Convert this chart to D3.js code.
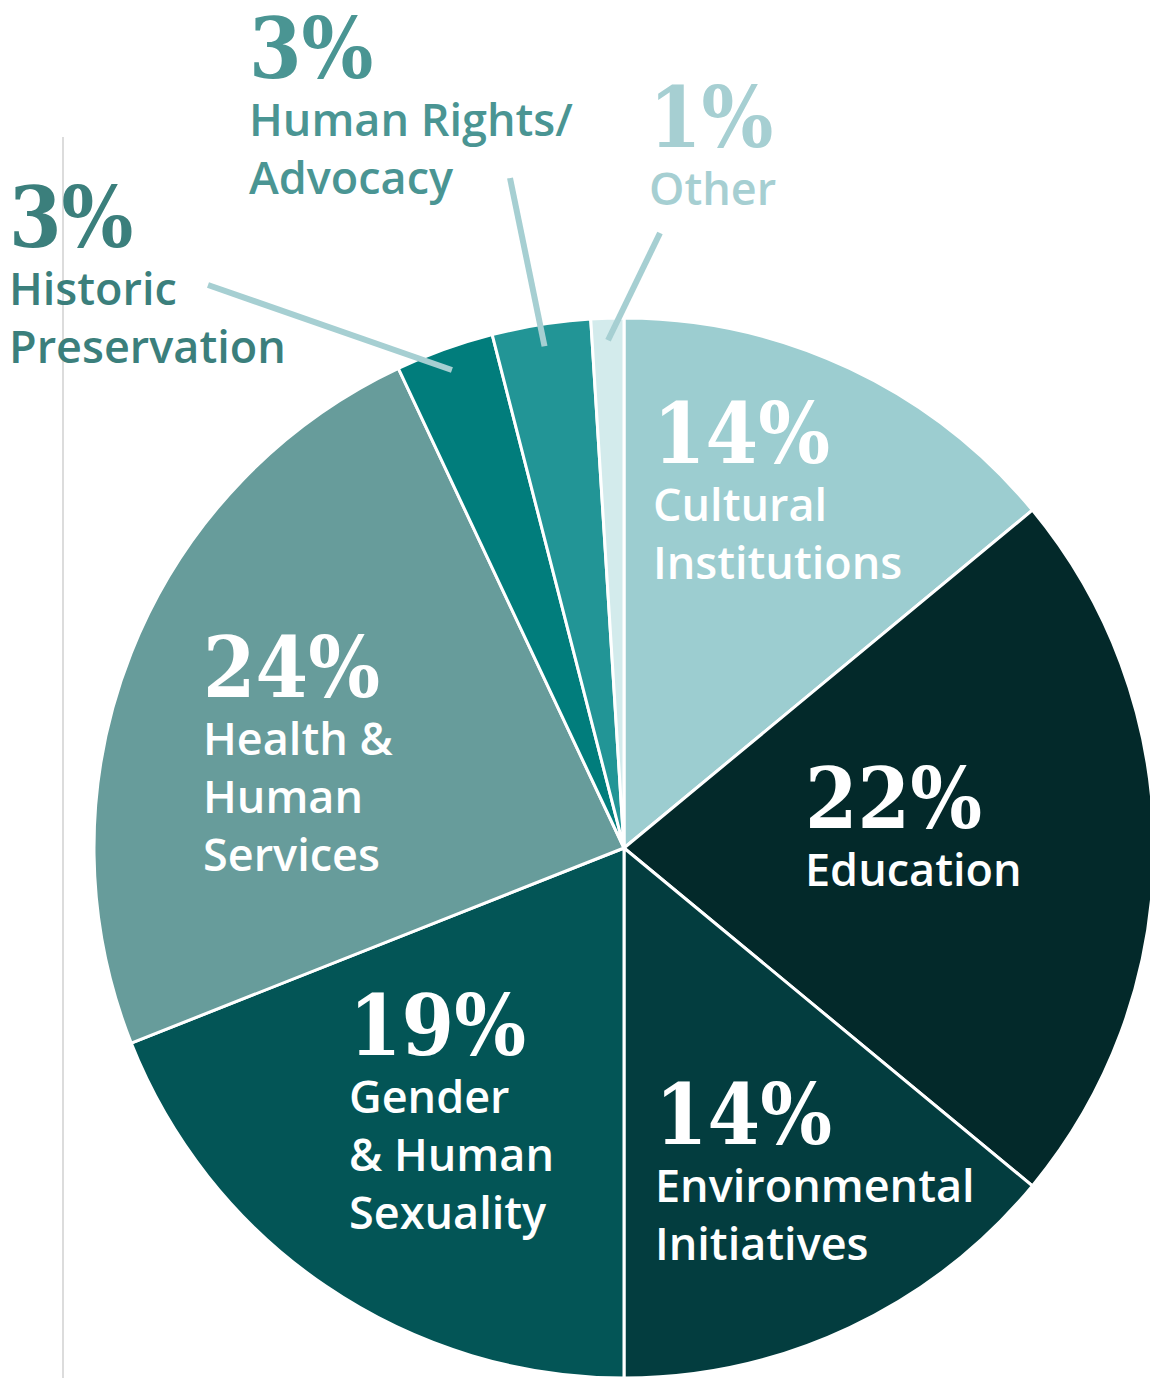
<!DOCTYPE html>
<html lang="en">
<head>
    <meta charset="UTF-8">
    <title>Giving by Category</title>
    <style>
        body {
            margin: 0;
            background: #fff;
        }
        .pct {
            font-family: 'DejaVu Serif Condensed', 'DejaVu Serif', serif;
            font-weight: bold;
            font-size: 84px;
        }
        .lbl {
            font-family: 'Open Sans', 'Noto Sans', sans-serif;
            font-weight: 600;
            font-size: 45px;
            font-variant-ligatures: none;
        }
    </style>
</head>
<body>
    <div id="chart"></div>
    <script src="https://d3js.org/d3.v7.min.js"></script>
    <script>
        const width = 1150;
        const height = 1378;

        // data
        const categories = ["Cultural Institutions", "Education", "Environmental Initiatives",
            "Gender & Human Sexuality", "Health & Human Services", "Historic Preservation",
            "Human Rights/ Advocacy", "Other"];
        const shares = [14, 22, 14, 19, 24, 3, 3, 1];
        const sliceColors = ["#9ccdd0", "#03292a", "#033d3f", "#035556", "#679c9b", "#017d7c", "#229596", "#d3ebec"];

        // label layout: text lines, position of the percent baseline, colour, optional leader start
        const labelLayout = [
            { lines: ["Cultural", "Institutions"], x: 653, y: 463, color: "#fff" },
            { lines: ["Education"], x: 805, y: 828, color: "#fff" },
            { lines: ["Environmental", "Initiatives"], x: 655, y: 1144, color: "#fff" },
            { lines: ["Gender", "& Human", "Sexuality"], x: 349, y: 1055, color: "#fff" },
            { lines: ["Health &", "Human", "Services"], x: 203, y: 697, color: "#fff" },
            { lines: ["Historic", "Preservation"], x: 9, y: 247, color: "#3b7f7c", leader: [208, 285] },
            { lines: ["Human Rights/", "Advocacy"], x: 249, y: 78, color: "#4a9593", leader: [510, 178] },
            { lines: ["Other"], x: 649, y: 147, color: "#a6cfd2", leader: [660, 233] }
        ];

        const cx = 624, cy = 848, radius = 530;

        const svg = d3.select("#chart")
            .append("svg")
            .attr("width", width)
            .attr("height", height);

        // thin grey rule on the left
        svg.append("line")
            .attr("x1", 63).attr("x2", 63)
            .attr("y1", 137).attr("y2", height)
            .attr("stroke", "#dcdcdc")
            .attr("stroke-width", 2);

        const pie = d3.pie().sort(null).value(d => d);
        const arcs = pie(shares);

        const arc = d3.arc().innerRadius(0).outerRadius(radius);

        const g = svg.append("g")
            .attr("transform", `translate(${cx},${cy})`);

        g.selectAll("path")
            .data(arcs)
            .enter().append("path")
            .attr("d", arc)
            .attr("fill", (d, i) => sliceColors[i])
            .attr("stroke", "#fff")
            .attr("stroke-width", 3)
            .attr("stroke-linejoin", "round");

        // leader lines for the small slices
        const pointAt = (a, r) => [cx + r * Math.sin(a), cy - r * Math.cos(a)];
        arcs.forEach((d, i) => {
            const lay = labelLayout[i];
            if (!lay.leader) return;
            const mid = (d.startAngle + d.endAngle) / 2;
            const end = pointAt(mid, radius - 22);
            svg.append("line")
                .attr("x1", lay.leader[0]).attr("y1", lay.leader[1])
                .attr("x2", end[0]).attr("y2", end[1])
                .attr("stroke", "#a6cfd2")
                .attr("stroke-width", 6);
        });

        // labels
        const labels = svg.append("g");
        arcs.forEach((d, i) => {
            const lay = labelLayout[i];
            const t = labels.append("g").attr("fill", lay.color);
            t.append("text")
                .attr("class", "pct")
                .attr("x", lay.x)
                .attr("y", lay.y)
                .text(shares[i] + "%");
            lay.lines.forEach((line, j) => {
                t.append("text")
                    .attr("class", "lbl")
                    .attr("x", lay.x)
                    .attr("y", lay.y + 58 + j * 58)
                    .text(line);
            });
        });
    </script>
</body>
</html>
